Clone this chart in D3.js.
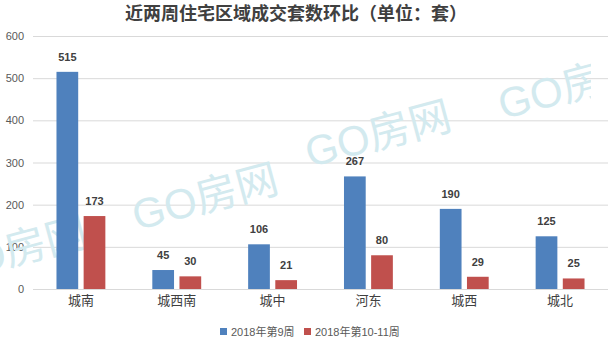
<!DOCTYPE html>
<html>
<head>
<meta charset="utf-8">
<script src="https://cdn.jsdelivr.net/npm/d3@7/dist/d3.min.js"></script>
<style>
  html, body { margin: 0; padding: 0; background: #fff; }
  svg { display: block; }
  text { font-family: "Liberation Sans", "Noto Sans CJK SC", sans-serif; }
</style>
</head>
<body>
<svg id="chart" width="611" height="349"></svg>
<script>
// Weekly residential transactions by district (units: sets)
const categories = ["城南", "城西南", "城中", "河东", "城西", "城北"];
const seriesNames = ["2018年第9周", "2018年第10-11周"];
const week9 = [515, 45, 106, 267, 190, 125];
const week10to11 = [173, 30, 21, 80, 29, 25];
const yTicks = [0, 100, 200, 300, 400, 500, 600];
const watermarkText = "GO房网";

const colors = ["#4F81BD", "#C0504D"];
const seriesValues = [week9, week10to11];

const W = 611, H = 349;
const margin = { top: 36, right: 3, bottom: 60, left: 33 };
const plotW = W - margin.left - margin.right;
const plotH = H - margin.top - margin.bottom;

const svg = d3.select("#chart");

// Title
svg.append("text")
  .attr("x", 296).attr("y", 20)
  .attr("text-anchor", "middle")
  .attr("font-size", 18).attr("font-weight", "bold")
  .attr("fill", "#404040")
  .style("font-family", "'Noto Sans CJK SC', sans-serif")
  .text("近两周住宅区域成交套数环比（单位：套）");

const g = svg.append("g").attr("transform", `translate(${margin.left},${margin.top})`);

const y = d3.scaleLinear().domain([0, 600]).range([plotH, 0]);
const x0 = d3.scaleBand().domain(categories).range([0, plotW])
  .paddingInner(0.49).paddingOuter(0.245);
const x1 = d3.scaleBand().domain(d3.range(seriesNames.length)).range([0, x0.bandwidth()])
  .paddingInner(0.2);

// Gridlines and value axis
const yAxis = g.append("g")
  .call(d3.axisLeft(y).tickValues(yTicks).tickSize(-plotW).tickPadding(9));
yAxis.select(".domain").remove();
yAxis.selectAll(".tick line").attr("stroke", "#d9d9d9").attr("stroke-width", 1);
yAxis.selectAll(".tick text").attr("fill", "#595959").attr("font-size", 11)
  .style("font-family", "'Liberation Sans', sans-serif");

// Watermarks (the rightmost one is clipped at the plot's right edge)
const wmClip = svg.append("clipPath").attr("id", "wm-clip");
wmClip.append("rect").attr("x", 0).attr("y", 0).attr("width", 591).attr("height", H);
const wmPos = [[14, 250], [205, 197], [378, 134], [571, 86]];
svg.append("g").attr("clip-path", "url(#wm-clip)")
  .selectAll("text").data(wmPos).join("text")
  .attr("transform", d => `translate(${d[0]},${d[1]}) rotate(-15)`)
  .attr("text-anchor", "middle").attr("dy", "0.35em")
  .attr("font-size", 42)
  .attr("fill", "#d3eaef")
  .text(watermarkText);

// Bars
const plot = svg.append("g").attr("transform", `translate(${margin.left},${margin.top})`);
const groups = plot.selectAll("g.cat").data(categories).join("g")
  .attr("class", "cat")
  .attr("transform", d => `translate(${x0(d)},0)`);

groups.selectAll("rect")
  .data((c, i) => seriesValues.map((s, k) => ({ k, v: s[i] })))
  .join("rect")
  .attr("x", d => x1(d.k))
  .attr("width", x1.bandwidth())
  .attr("y", d => y(d.v))
  .attr("height", d => plotH - y(d.v))
  .attr("fill", d => colors[d.k]);

groups.selectAll("text.val")
  .data((c, i) => seriesValues.map((s, k) => ({ k, v: s[i] })))
  .join("text")
  .attr("class", "val")
  .attr("x", d => x1(d.k) + x1.bandwidth() / 2)
  .attr("y", d => y(d.v) - 11)
  .attr("text-anchor", "middle")
  .attr("font-size", 11).attr("font-weight", "bold")
  .attr("fill", "#404040")
  .text(d => d.v);

// Category axis
const xAxis = plot.append("g").attr("transform", `translate(0,${plotH})`)
  .call(d3.axisBottom(x0).tickSize(0).tickPadding(7));
xAxis.select(".domain").remove();
xAxis.selectAll(".tick text").attr("fill", "#404040").attr("font-size", 13)
  .style("font-family", "'Noto Sans CJK SC', sans-serif");

// Legend
const legend = svg.append("g").attr("transform", "translate(220,332)");
const legendX = [0, 84];
seriesNames.forEach((name, k) => {
  const item = legend.append("g").attr("transform", `translate(${legendX[k]},0)`);
  item.append("rect").attr("x", 0).attr("y", -4).attr("width", 7).attr("height", 7).attr("fill", colors[k]);
  item.append("text").attr("x", 11).attr("y", 0).attr("dy", "0.35em")
    .attr("font-size", 11).attr("fill", "#595959").text(name);
});
</script>
</body>
</html>
